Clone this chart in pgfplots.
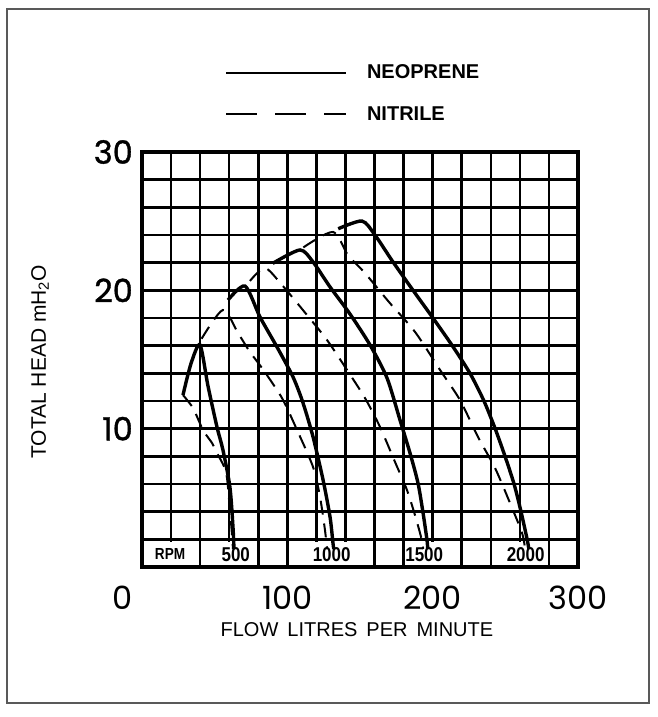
\documentclass[border=0pt]{standalone}
\usepackage{fontspec}
\setmainfont{Liberation Sans}
\newfontfamily\tickfont{Poppins}
\newfontfamily\ytickfont{Poppins}[FakeBold=1.2]
\newfontfamily\condfont{Liberation Sans}[FakeStretch=0.85]
\usepackage{pgfplots}
\pgfplotsset{compat=1.18}
\newcommand\shl[2]{\kern-#1\hbox to 0pt{\hss#2\hss}\kern#1}

\begin{document}
\begin{tikzpicture}
\useasboundingbox (0,0) rectangle (658pt,-717pt);
\fill[white] (0,0) rectangle (658pt,-717pt);
\draw[black!65, line width=1.2pt] (7pt,-9pt) rectangle (649pt,-703pt);
\begin{axis}[
  at={(142pt,-567pt)}, anchor=south west,
  scale only axis, width=436pt, height=415pt,
  xmin=0, xmax=300, ymin=0, ymax=30,
  xtick={0,100,200,300},
  xticklabels={\shl{19pt}{0},100,200,300},
  ytick={10,20,30},
  minor xtick={20,40,60,80,120,140,160,180,220,240,260,280},
  minor ytick={2,4,6,8,12,14,16,18,22,24,26,28},
  grid=both,
  major grid style={black, line width=3.4pt},
  minor grid style={black, line width=2.5pt},
  axis line style={black, line width=3.6pt},
  major tick length=0pt, minor tick length=0pt,
  tick style={draw=none},
  xticklabel style={font=\tickfont\fontsize{32}{32}\selectfont, anchor=north, inner sep=0pt, yshift=-19pt},
  yticklabel style={font=\ytickfont\fontsize{32}{32}\selectfont, anchor=east, inner sep=0pt, xshift=-9pt, /pgf/number format/assume math mode=true},
  xlabel={FLOW\hspace{0.45em}LITRES\hspace{0.45em}PER\hspace{0.45em}MINUTE},
  xlabel style={at={(axis description cs:0.493,-0.152)}, anchor=center, font=\fontsize{20}{20}\selectfont},
  ylabel={TOTAL HEAD mH\textsubscript{2}O},
  ylabel style={at={(axis description cs:-0.234,0.494)}, anchor=center, font=\fontsize{21}{21}\selectfont},
  legend style={at={(axis description cs:0.19,1.215)}, anchor=north west, draw=none, fill=none, inner sep=0pt,
    font=\bfseries\fontsize{20}{20}\selectfont, row sep=22pt, column sep=18pt},
  legend cell align=left,
  legend image code/.code={\draw[#1] (0pt,0pt) -- (120pt,0pt);},
  clip=false,
]
% the bottom RPM row: gaps in the grid where the labels sit
\fill[white] (axis cs:17.5,0.16) rectangle (axis cs:22.5,1.84);
\fill[white] (axis cs:57.5,0.16) rectangle (axis cs:62.5,1.84);
\fill[white] (axis cs:117.5,0.16) rectangle (axis cs:122.5,1.84);
\fill[white] (axis cs:137.5,0.16) rectangle (axis cs:142.5,1.84);
\fill[white] (axis cs:197,0.16) rectangle (axis cs:203,1.84);
\fill[white] (axis cs:257.5,0.16) rectangle (axis cs:262.5,1.84);

% NEOPRENE 500
\addplot[black, line width=3.4pt, smooth, tension=0.45, legend image post style={line width=2pt}] coordinates {
 (28.2,12.43) (33.7,14.7) (39.9,16.05) (45.4,13.09) (51.6,10.12) (55.7,8.46) (60.5,5.78) (62.6,2.89) (63.3,1.3)};
\addlegendentry{NEOPRENE}
% NITRILE 500
\addplot[black, line width=2pt, dash pattern=on 14pt off 9pt, smooth, tension=0.45, legend image post style={dash pattern=on 31pt off 18pt}] coordinates {
 (28.2,12.43) (35.1,11.49) (42.0,9.90) (48.2,8.96) (51.6,8.24) (57.8,6.87) (60.2,4.5) (61.8,2.5) (62.6,1.3)};
\addlegendentry{NITRILE}
% NEOPRENE 1000
\addplot[black, line width=3.4pt, smooth, tension=0.45, forget plot] coordinates {
 (59.2,19.3) (70.9,20.31) (81.2,18.07) (92.9,15.90) (103.9,13.74) (110.8,11.86) (117.7,9.40) (124.6,6.29) (129.4,3.61) (131.4,1.73) (132.0,1.3)};
% NITRILE 1000
\addplot[black, line width=2pt, dash pattern=on 14pt off 9pt, smooth, tension=0.45, forget plot] coordinates {
 (41.0,16.5) (55.7,18.58) (66.1,16.91) (74.3,15.54) (82.6,14.38) (96.3,12.22) (106.7,9.90) (117.7,7.23) (122.5,5.06) (125.9,2.67) (127.3,1.3)};
% NEOPRENE 1500
\addplot[black, line width=3.4pt, smooth, tension=0.45, forget plot] coordinates {
 (90.0,21.95) (108.7,22.92) (117.7,22.05) (129.4,20.24) (143.1,18.29) (156.9,16.05) (168.6,13.66) (177.5,10.63) (184.4,8.24) (189.9,6.07) (193.4,3.90) (196.1,1.95) (196.6,1.3)};
% NITRILE 1500
\addplot[black, line width=2pt, dash pattern=on 14pt off 9pt, smooth, tension=0.45, forget plot] coordinates {
 (74.3,20.68) (84.6,21.62) (96.3,20.39) (113.5,18.22) (127.3,16.41) (141.1,14.24) (153.4,12.22) (163.8,10.12) (174.1,7.59) (182.3,5.57) (187.8,3.76) (192.0,2.17) (193.5,1.3)};
% NEOPRENE 2000
\addplot[black, line width=3.4pt, smooth, tension=0.45, forget plot] coordinates {
 (135.0,24.45) (151.4,25.01) (160.3,24.0) (172.4,22.1) (186.5,20.0) (200.2,18.0) (213.5,16.0) (225.7,14.0) (235.3,12.0) (243.0,10.0) (249.8,8.0) (256.0,6.0) (260.8,4.0) (265.0,2.0) (266.2,1.3)};
% NITRILE 2000
\addplot[black, line width=2pt, dash pattern=on 14pt off 9pt, smooth, tension=0.45, forget plot] coordinates {
 (111.0,23.1) (131.4,24.22) (141.7,22.55) (153.4,21.25) (169.9,19.16) (187.9,16.99) (205.1,14.24) (218.8,12.07) (231.2,9.40) (242.9,7.16) (253.2,4.63) (261.5,2.46) (263.6,1.3)};

\node[font=\condfont\bfseries\fontsize{16}{16}\selectfont] at (axis cs:19.3,0.95) {RPM};
\node[font=\condfont\bfseries\fontsize{20}{20}\selectfont] at (axis cs:64.5,0.87) {500};
\node[font=\condfont\bfseries\fontsize{20}{20}\selectfont] at (axis cs:130.5,0.87) {1000};
\node[font=\condfont\bfseries\fontsize{20}{20}\selectfont] at (axis cs:194.2,0.87) {1500};
\node[font=\condfont\bfseries\fontsize{20}{20}\selectfont] at (axis cs:264,0.87) {2000};
\end{axis}
\end{tikzpicture}
\end{document}
